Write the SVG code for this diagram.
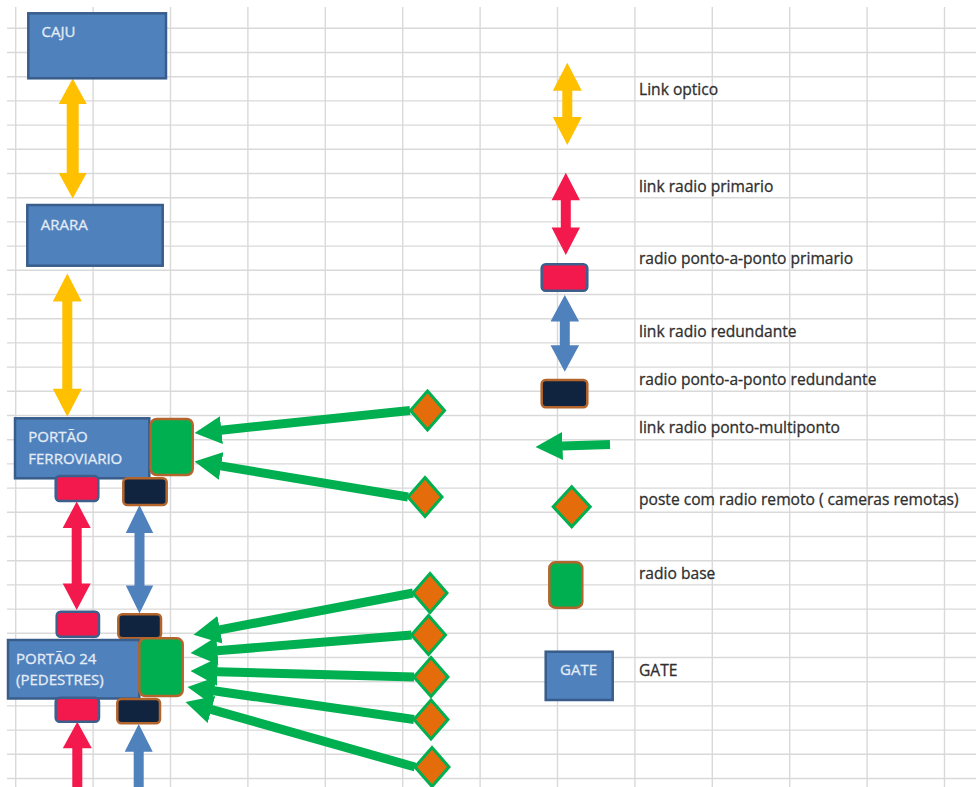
<svg xmlns="http://www.w3.org/2000/svg" width="976" height="787" viewBox="0 0 976 787">
<defs>
<style>
.grid line{stroke:#d9d9d9;stroke-width:1.4}
.box{fill:#4f81bd;stroke:#385d8a;stroke-width:2.5}
.boxt{font-family:"Open Sans","Noto Sans",sans-serif;font-size:15px;fill:#e4ecf6;stroke:#e4ecf6;stroke-width:0.3}
.lt{font-family:"Open Sans","Noto Sans",sans-serif;font-size:15.6px;fill:#2f2f2f;stroke:#2f2f2f;stroke-width:0.3}
.rp{fill:#f3194c;stroke:#3d5f8c;stroke-width:2.5}
.rr{fill:#10243f;stroke:#b4652c;stroke-width:2.5}
.rb{fill:#00b050;stroke:#b4652c;stroke-width:2.5}
.dm{fill:#e46c0a;stroke:#00b050;stroke-width:3}
.yel{fill:#ffc000}
.red{fill:#f3194c}
.blu{fill:#4f81bd}
.gl{stroke:#00b050;stroke-width:9;fill:none;marker-end:url(#gh)}
</style>
<marker id="gh" viewBox="0 0 27 28" refX="0.5" refY="14" markerUnits="userSpaceOnUse" markerWidth="27" markerHeight="28" orient="auto">
<path d="M0,0 L27,14 L0,28 Z" fill="#00b050"/>
</marker>
</defs>
<rect width="976" height="787" fill="#ffffff"/>
<g class="grid">
<line x1="7" y1="28.3" x2="976" y2="28.3"/><line x1="7" y1="52.5" x2="976" y2="52.5"/><line x1="7" y1="76.7" x2="976" y2="76.7"/><line x1="7" y1="100.9" x2="976" y2="100.9"/><line x1="7" y1="125.1" x2="976" y2="125.1"/><line x1="7" y1="149.3" x2="976" y2="149.3"/><line x1="7" y1="173.5" x2="976" y2="173.5"/><line x1="7" y1="197.7" x2="976" y2="197.7"/><line x1="7" y1="221.9" x2="976" y2="221.9"/><line x1="7" y1="246.1" x2="976" y2="246.1"/><line x1="7" y1="270.3" x2="976" y2="270.3"/><line x1="7" y1="294.5" x2="976" y2="294.5"/><line x1="7" y1="318.7" x2="976" y2="318.7"/><line x1="7" y1="342.9" x2="976" y2="342.9"/><line x1="7" y1="367.1" x2="976" y2="367.1"/><line x1="7" y1="391.3" x2="976" y2="391.3"/><line x1="7" y1="415.5" x2="976" y2="415.5"/><line x1="7" y1="439.7" x2="976" y2="439.7"/><line x1="7" y1="463.9" x2="976" y2="463.9"/><line x1="7" y1="488.1" x2="976" y2="488.1"/><line x1="7" y1="512.3" x2="976" y2="512.3"/><line x1="7" y1="536.5" x2="976" y2="536.5"/><line x1="7" y1="560.7" x2="976" y2="560.7"/><line x1="7" y1="584.9" x2="976" y2="584.9"/><line x1="7" y1="609.1" x2="976" y2="609.1"/><line x1="7" y1="633.3" x2="976" y2="633.3"/><line x1="7" y1="657.5" x2="976" y2="657.5"/><line x1="7" y1="681.7" x2="976" y2="681.7"/><line x1="7" y1="705.9" x2="976" y2="705.9"/><line x1="7" y1="730.1" x2="976" y2="730.1"/><line x1="7" y1="754.3" x2="976" y2="754.3"/><line x1="7" y1="778.5" x2="976" y2="778.5"/>
<line x1="15.7" y1="7" x2="15.7" y2="787"/><line x1="93.1" y1="7" x2="93.1" y2="787"/><line x1="170.5" y1="7" x2="170.5" y2="787"/><line x1="247.9" y1="7" x2="247.9" y2="787"/><line x1="325.3" y1="7" x2="325.3" y2="787"/><line x1="402.7" y1="7" x2="402.7" y2="787"/><line x1="480.1" y1="7" x2="480.1" y2="787"/><line x1="557.5" y1="7" x2="557.5" y2="787"/><line x1="634.9" y1="7" x2="634.9" y2="787"/><line x1="712.3" y1="7" x2="712.3" y2="787"/><line x1="789.7" y1="7" x2="789.7" y2="787"/><line x1="867.1" y1="7" x2="867.1" y2="787"/><line x1="944.5" y1="7" x2="944.5" y2="787"/>
</g>

<g id="connectors">
<polygon class="yel" points="72.7,78.5 86.7,104 78.7,104 78.7,173 86.7,173 72.7,198.5 58.7,173 66.7,173 66.7,104 58.7,104"/>
<polygon class="yel" points="67.3,273.5 81.8,301.5 72.3,301.5 72.3,388.7 81.8,388.7 67.3,416.7 52.8,388.7 62.3,388.7 62.3,301.5 52.8,301.5"/>
<polygon class="red" points="76.7,501.5 90.7,528 81.7,528 81.7,583.5 90.7,583.5 76.7,610 62.7,583.5 71.7,583.5 71.7,528 62.7,528"/>
<polygon class="blu" points="139.5,505 153.2,533 144.5,533 144.5,585.5 153.2,585.5 139.5,613.5 125.8,585.5 134.5,585.5 134.5,533 125.8,533"/>
<polygon class="red" points="77.3,721.7 91.8,748.3 82.3,748.3 82.3,790 72.3,790 72.3,748.3 62.8,748.3"/>
<polygon class="blu" points="138.7,724 152.7,751.7 143.7,751.7 143.7,790 133.7,790 133.7,751.7 124.7,751.7"/>
<path class="gl" d="M410,410.5 L220.9,430.2"/>
<path class="gl" d="M408,497 L220.6,465.9"/>
<path class="gl" d="M413,593 L219.5,629.9"/>
<path class="gl" d="M411.5,635 L216.9,650.8"/>
<path class="gl" d="M414,677 L217,671.7"/>
<path class="gl" d="M414,719.5 L213.7,690.8"/>
<path class="gl" d="M415,767 L211,709.3"/>
</g>

<g id="caju"><rect class="box" x="28.3" y="13.3" width="137.7" height="65"/><text class="boxt" x="41.5" y="36.5">CAJU</text></g>
<g id="arara"><rect class="box" x="27.3" y="205" width="135.4" height="60.7"/><text class="boxt" x="40.7" y="229.5">ARARA</text></g>
<g id="portao-ferroviario"><rect class="box" x="15" y="418.3" width="134.3" height="60"/><text class="boxt" x="28.3" y="441.7">PORTÃO</text><text class="boxt" x="28.3" y="463.5">FERROVIARIO</text></g>
<g id="radio-base-ferroviario"><rect class="rb" x="150.7" y="419" width="42" height="56" rx="6"/></g>
<g id="radio-primario-ferroviario"><rect class="rp" x="55.7" y="476" width="42.6" height="25" rx="4"/></g>
<g id="radio-redundante-ferroviario"><rect class="rr" x="123.3" y="478.3" width="43.4" height="26.7" rx="4"/></g>
<g id="radio-primario-p24-top"><rect class="rp" x="56.7" y="611.7" width="42.3" height="25" rx="4"/></g>
<g id="radio-redundante-p24-top"><rect class="rr" x="118.3" y="614.3" width="42.7" height="24" rx="4"/></g>
<g id="portao-24"><rect class="box" x="8" y="640" width="131.3" height="58.5"/><text class="boxt" x="16" y="663.5">PORTÃO 24</text><text class="boxt" x="16" y="685">(PEDESTRES)</text></g>
<g id="radio-base-p24"><rect class="rb" x="139.3" y="638.3" width="43.4" height="57.7" rx="6"/></g>
<g id="radio-primario-p24-bottom"><rect class="rp" x="55.7" y="697.7" width="43.3" height="24" rx="4"/></g>
<g id="radio-redundante-p24-bottom"><rect class="rr" x="117.3" y="699" width="42.7" height="24.3" rx="4"/></g>

<g id="poste-f1"><polygon class="dm" points="427.5,391 444.5,410.5 427.5,430 410.5,410.5"/></g>
<g id="poste-f2"><polygon class="dm" points="425,477.5 442,497 425,516.5 408,497"/></g>
<g id="poste-p1"><polygon class="dm" points="430,573.5 447,593 430,612.5 413,593"/></g>
<g id="poste-p2"><polygon class="dm" points="428.5,615.5 445.5,635 428.5,654.5 411.5,635"/></g>
<g id="poste-p3"><polygon class="dm" points="431,657.5 448,677 431,696.5 414,677"/></g>
<g id="poste-p4"><polygon class="dm" points="431,700 448,719.5 431,739 414,719.5"/></g>
<g id="poste-p5"><polygon class="dm" points="432,747.5 449,767 432,786.5 415,767"/></g>

<g id="legend">
<g id="leg-optico"><polygon class="yel" points="567.3,62.7 581.8,90.7 572.3,90.7 572.3,117 581.8,117 567.3,145 552.8,117 562.3,117 562.3,90.7 552.8,90.7"/><text class="lt" x="639" y="95">Link optico</text></g>
<g id="leg-primario"><polygon class="red" points="565.8,172.7 580,200.2 570.8,200.2 570.8,227.5 580,227.5 565.8,255 551.6,227.5 560.8,227.5 560.8,200.2 551.6,200.2"/><text class="lt" x="639" y="191.7">link radio primario</text></g>
<g id="leg-ptp-primario"><rect class="rp" x="541.7" y="264.3" width="45.6" height="26.4" rx="4"/><text class="lt" x="639" y="264.3">radio ponto-a-ponto primario</text></g>
<g id="leg-redundante"><polygon class="blu" points="564.8,295 579.1,321.5 569.8,321.5 569.8,345.2 579.1,345.2 564.8,371.7 550.5,345.2 559.8,345.2 559.8,321.5 550.5,321.5"/><text class="lt" x="639" y="336.7">link radio redundante</text></g>
<g id="leg-ptp-redundante"><rect class="rr" x="541.7" y="380" width="45.6" height="27.3" rx="4"/><text class="lt" x="639" y="385">radio ponto-a-ponto redundante</text></g>
<g id="leg-multiponto"><path class="gl" d="M610,444.5 L562,446.1"/><text class="lt" x="639" y="433.3">link radio ponto-multiponto</text></g>
<g id="leg-poste"><polygon class="dm" points="571.7,486.7 590.2,506.7 571.7,526.7 553.2,506.7"/><text class="lt" x="639" y="505">poste com radio remoto ( cameras remotas)</text></g>
<g id="leg-radio-base"><rect class="rb" x="549.3" y="562.3" width="33" height="45.4" rx="6"/><text class="lt" x="639" y="579.3">radio base</text></g>
<g id="leg-gate"><rect class="box" x="545.7" y="651.7" width="67" height="48.3"/><text class="boxt" x="578.5" y="675" text-anchor="middle">GATE</text><text class="lt" x="639" y="675.7">GATE</text></g>
</g>
</svg>
